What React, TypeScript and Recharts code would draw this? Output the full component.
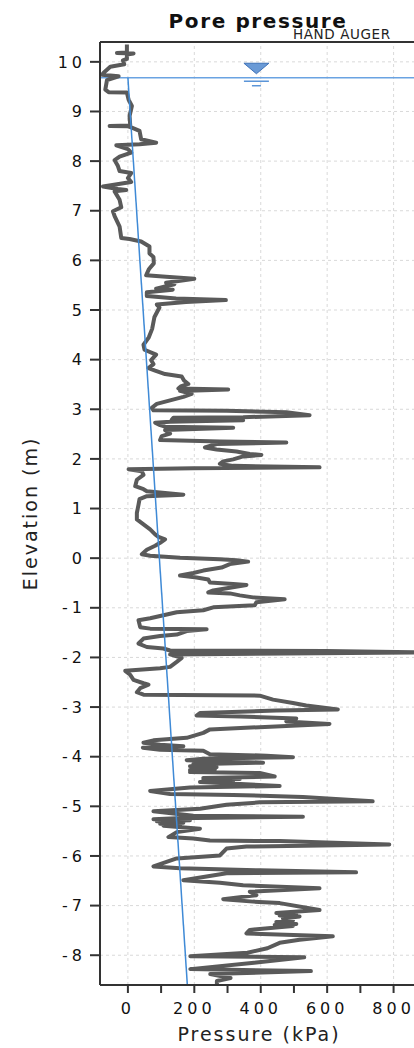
import {
  CartesianGrid,
  Label,
  Line,
  LineChart,
  ReferenceDot,
  ReferenceLine,
  XAxis,
  YAxis,
} from "recharts";

// pore pressure trace (kPa), top to bottom
const porePressure = [
  -3, -3, -33, 17, -3, -3, -15, -11, -53, -73, -78, -28, -63, -68, -58, -3, 2, 12, 5, 7,
  -55, 0, 10, 35, 40, 85, 35, -35, 0, 10, -25, -40, -30, -25, 10, 0, 10, -75, -30, -5,
  -40, -25, -20, -45, -40, -25, -20, 5, 40, 65, 65, 77, 78, 63, 55, 115, 200, 115, 140, 85,
  135, 57, 57, 145, 295, 175, 87, 95, 80, 73, 63, 47, 50, 85, 70, 77, 62, 82, 112, 162,
  169, 182, 159, 152, 302, 157, 192, 167, 127, 87, 72, 77, 297, 477, 547, 347, 137, 132, 347, 127,
  82, 97, 112, 317, 112, 127, 102, 97, 277, 477, 267, 232, 267, 327, 367, 402, 347, 317, 287, 277,
  317, 577, 197, 2, 42, 47, 27, 22, 47, 57, 167, 57, 35, 32, 27, 27, 47, 67, 82, 92,
  112, 97, 82, 57, 42, 67, 157, 277, 327, 362, 307, 282, 227, 197, 157, 207, 242, 247, 317, 357,
  257, 242, 307, 337, 377, 472, 387, 382, 257, 227, 147, 107, 67, 32, 37, 67, 237, 177, 147, 97,
  47, 32, 57, 107, 127, 597, 900, 127, 162, 147, 127, 97, -8, 7, 17, 47, 62, 37, 27, 47,
  397, 437, 497, 537, 632, 447, 217, 207, 337, 507, 477, 607, 247, 227, 177, 77, 47, 97, 167, 45,
  97, 227, 247, 417, 497, 227, 177, 407, 197, 257, 187, 267, 192, 262, 187, 247, 187, 397, 442, 227,
  337, 227, 317, 217, 457, 187, 67, 127, 317, 527, 737, 397, 297, 217, 77, 197, 527, 147, 77, 187,
  87, 167, 97, 157, 107, 217, 147, 122, 197, 247, 457, 787, 357, 297, 277, 147, 77, 157, 397, 687,
  297, 167, 277, 347, 577, 367, 387, 287, 377, 457, 577, 447, 507, 457, 517, 467, 497, 447, 507, 442,
  497, 367, 357, 617, 517, 457, 420, 360, 188, 531, 380, 188, 551, 248, 309, 268, 268,
];

// elevation of each trace point (m)
const elevation = [
  10.35, 10.19, 10.18, 10.17, 10.15, 10.06, 10.03, 9.95, 9.9, 9.78, 9.74, 9.71, 9.63, 9.44, 9.39, 9.38, 9.24, 9.11, 8.91, 8.72,
  8.71, 8.7, 8.68, 8.61, 8.44, 8.37, 8.34, 8.32, 8.24, 8.17, 8.09, 8.02, 7.9, 7.8, 7.76, 7.66, 7.58, 7.49, 7.44, 7.42,
  7.39, 7.22, 7.07, 6.99, 6.89, 6.68, 6.45, 6.43, 6.38, 6.28, 6.14, 6.07, 5.94, 5.82, 5.7, 5.67, 5.63, 5.55, 5.52, 5.43,
  5.41, 5.36, 5.28, 5.23, 5.2, 5.16, 5.11, 5.05, 4.86, 4.62, 4.45, 4.3, 4.2, 4.1, 3.99, 3.91, 3.83, 3.78, 3.71, 3.66,
  3.58, 3.51, 3.46, 3.42, 3.4, 3.37, 3.31, 3.25, 3.18, 3.11, 3.03, 2.98, 2.97, 2.94, 2.88, 2.84, 2.83, 2.79, 2.78, 2.75,
  2.73, 2.68, 2.65, 2.63, 2.58, 2.51, 2.46, 2.38, 2.35, 2.33, 2.3, 2.23, 2.19, 2.15, 2.1, 2.08, 2.05, 1.99, 1.95, 1.9,
  1.86, 1.83, 1.81, 1.79, 1.75, 1.68, 1.58, 1.45, 1.39, 1.35, 1.28, 1.25, 1.19, 1.08, 0.91, 0.78, 0.68, 0.58, 0.48, 0.43,
  0.38, 0.31, 0.25, 0.17, 0.08, 0.05, 0.01, -0.02, -0.04, -0.07, -0.12, -0.19, -0.25, -0.3, -0.35, -0.39, -0.43, -0.49, -0.52, -0.54,
  -0.65, -0.69, -0.71, -0.75, -0.79, -0.83, -0.89, -0.95, -0.99, -1.05, -1.09, -1.15, -1.21, -1.25, -1.39, -1.42, -1.43, -1.47, -1.54, -1.57,
  -1.62, -1.72, -1.79, -1.82, -1.86, -1.87, -1.9, -1.94, -2.01, -2.09, -2.19, -2.22, -2.27, -2.35, -2.45, -2.52, -2.55, -2.62, -2.7, -2.75,
  -2.77, -2.85, -2.92, -2.97, -3.05, -3.07, -3.12, -3.17, -3.19, -3.23, -3.29, -3.34, -3.45, -3.52, -3.62, -3.67, -3.72, -3.76, -3.79, -3.82,
  -3.86, -3.88, -3.95, -3.98, -4.01, -4.04, -4.07, -4.12, -4.15, -4.17, -4.19, -4.21, -4.23, -4.25, -4.27, -4.29, -4.31, -4.33, -4.4, -4.43,
  -4.45, -4.47, -4.49, -4.51, -4.59, -4.62, -4.69, -4.75, -4.77, -4.81, -4.9, -4.92, -4.97, -5.05, -5.1, -5.19, -5.21, -5.24, -5.26, -5.28,
  -5.3, -5.33, -5.35, -5.37, -5.39, -5.45, -5.52, -5.62, -5.65, -5.69, -5.7, -5.77, -5.81, -5.85, -5.99, -6.05, -6.21, -6.25, -6.29, -6.33,
  -6.35, -6.49, -6.54, -6.59, -6.65, -6.72, -6.79, -6.87, -6.92, -6.95, -7.09, -7.15, -7.18, -7.2, -7.22, -7.26, -7.3, -7.33, -7.37, -7.39,
  -7.41, -7.49, -7.56, -7.62, -7.69, -7.75, -7.86, -7.95, -8.02, -8.04, -8.15, -8.28, -8.32, -8.38, -8.46, -8.52, -8.6,
];

// hydrostatic line below the water table
const hydroPressure = [0, 179];
const hydroElevation = [9.68, -8.6];
const waterTable = 9.68;

const elevationTicks = [-8, -7, -6, -5, -4, -3, -2, -1, 0, 1, 2, 3, 4, 5, 6, 7, 8, 9, 10];
const pressureTicks = [0, 100, 200, 300, 400, 500, 600, 700, 800, 900];
const gridPressures = [0, 200, 400, 600, 800];

const traceData = porePressure.map((p, i) => ({ p, e: elevation[i] }));
const hydroData = hydroPressure.map((p, i) => ({ p, e: hydroElevation[i] }));

const font = "'DejaVu Sans', Verdana, sans-serif";
const tickStyle = { fill: "#111", fontSize: 16, fontFamily: font, letterSpacing: 4 };

function WaterSymbol(props: any) {
  const { cx, cy } = props;
  return (
    <g>
      <polygon
        points={`${cx - 12.5},${cy - 14.5} ${cx + 12.5},${cy - 14.5} ${cx},${cy - 4}`}
        fill="#6a9ad6"
        stroke="#3f72b8"
        strokeWidth={1}
      />
      <line x1={cx - 12.5} x2={cx + 12.5} y1={cy + 3.5} y2={cy + 3.5} stroke="#5b95d8" strokeWidth={1.5} />
      <line x1={cx - 4.5} x2={cx + 4.5} y1={cy + 8} y2={cy + 8} stroke="#5b95d8" strokeWidth={1.5} />
    </g>
  );
}

export default function App() {
  return (
    <div
      style={{
        position: "absolute",
        left: 0,
        top: 0,
        width: 414,
        height: 1048,
        overflow: "hidden",
        background: "#fff",
      }}
    >
      <LineChart width={520} height={1048} margin={{ top: 42, right: 60, left: 0, bottom: 0 }}>
        <CartesianGrid horizontal vertical={false} stroke="#d9d9d9" strokeDasharray="3 3" />
        {gridPressures.map((v) => (
          <ReferenceLine key={v} x={v} stroke="#d9d9d9" strokeDasharray="3 3" />
        ))}
        <XAxis
          type="number"
          dataKey="p"
          domain={[-84, 1000]}
          ticks={pressureTicks}
          allowDataOverflow
          height={63}
          tickSize={8}
          tickMargin={10}
          tick={tickStyle}
          tickFormatter={(v: number) => (v % 200 === 0 ? String(v) : "")}
          axisLine={{ stroke: "#333", strokeWidth: 2 }}
          tickLine={{ stroke: "#333", strokeWidth: 2 }}
        />
        <YAxis
          type="number"
          dataKey="e"
          domain={[-8.6, 10.4]}
          ticks={elevationTicks}
          allowDataOverflow
          width={100}
          tickSize={10}
          tickMargin={4}
          tick={tickStyle}
          axisLine={{ stroke: "#333", strokeWidth: 2 }}
          tickLine={{ stroke: "#333", strokeWidth: 2 }}
        >
          <Label
            value="Elevation (m)"
            angle={-90}
            position="insideLeft"
            offset={30}
            style={{ textAnchor: "middle", fontSize: 19, fontFamily: font, fill: "#222", letterSpacing: 2 }}
          />
        </YAxis>
        <ReferenceLine y={10.4} stroke="#333" strokeWidth={2} />
        <ReferenceLine y={waterTable} stroke="#6aa3e2" strokeWidth={1.5} />
        <Line
          data={traceData}
          dataKey="e"
          type="linear"
          stroke="#5a5a5a"
          strokeWidth={4}
          strokeLinejoin="round"
          dot={false}
          isAnimationActive={false}
        />
        <Line
          data={hydroData}
          dataKey="e"
          type="linear"
          stroke="#3f8ad6"
          strokeWidth={1.5}
          dot={false}
          isAnimationActive={false}
        />
        <ReferenceDot x={387} y={waterTable} r={0} shape={WaterSymbol} />
      </LineChart>
      <svg width={414} height={1048} style={{ position: "absolute", left: 0, top: 0, pointerEvents: "none" }}>
        <text x={258} y={28} textAnchor="middle" fontFamily={font} fontWeight="bold" fontSize={20} letterSpacing={1.6} fill="#111">
          Pore pressure
        </text>
        <text x={293} y={39} fontFamily={font} fontSize={13.5} letterSpacing={0.6} fill="#222">
          HAND AUGER
        </text>
        <text x={259} y={1041} textAnchor="middle" fontFamily={font} fontSize={19} letterSpacing={2} fill="#222">
          Pressure (kPa)
        </text>
      </svg>
    </div>
  );
}
